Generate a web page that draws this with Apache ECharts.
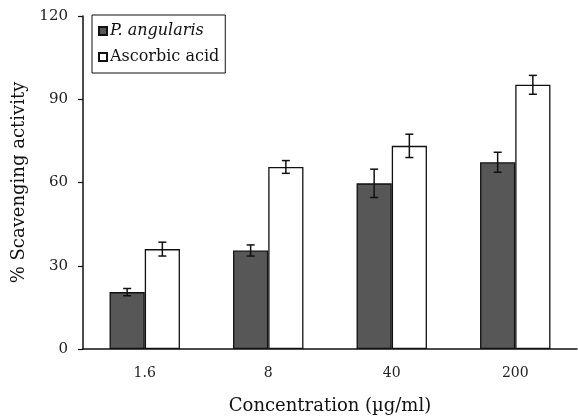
<!DOCTYPE html>
<html>
<head>
<meta charset="utf-8">
<script src="https://cdn.jsdelivr.net/npm/echarts@6/dist/echarts.min.js"></script>
<style>html,body{margin:0;padding:0;background:#fff;}#c{width:578px;height:416px;}</style>
</head>
<body>
<div id="c"></div>
<script>
const categories = ['1.6', '8', '40', '200'];
const pangMean = [20.5, 35.5, 59.7, 67.3];
const pangErr = [1.3, 2.0, 5.1, 3.6];
const ascMean = [36.0, 65.6, 73.2, 95.2];
const ascErr = [2.5, 2.3, 4.2, 3.4];
const yTicks = [0, 30, 60, 90, 120];

const FONT = 'DejaVu Serif';
const BAR_FRAC = 0.285;

function errSeries(name, means, errs, side) {
  return {
    type: 'custom',
    name: name + ' err',
    silent: true,
    z: 5,
    data: means.map((m, i) => [i, m, errs[i]]),
    renderItem: function (params, api) {
      const i = api.value(0), m = api.value(1), e = api.value(2);
      const band = api.size([1, 0])[0];
      const off = side * band * BAR_FRAC / 2;
      const top = api.coord([i, m + e]);
      const bot = api.coord([i, m - e]);
      const x = top[0] + off;
      const cap = 4;
      const st = { stroke: '#111', lineWidth: 1.5 };
      return {
        type: 'group',
        children: [
          { type: 'line', shape: { x1: x, y1: top[1], x2: x, y2: bot[1] }, style: st },
          { type: 'line', shape: { x1: x - cap, y1: top[1], x2: x + cap, y2: top[1] }, style: st },
          { type: 'line', shape: { x1: x - cap, y1: bot[1], x2: x + cap, y2: bot[1] }, style: st }
        ]
      };
    }
  };
}

const chart = echarts.init(document.getElementById('c'));
chart.setOption({
  animation: false,
  backgroundColor: '#fff',
  textStyle: { fontFamily: FONT },
  grid: { left: 83, right: 1, top: 16, bottom: 67, outerBoundsMode: 'none', containLabel: false },
  legend: {
    orient: 'vertical',
    left: 92, top: 15,
    padding: [8, 6, 8, 6],
    itemGap: 10,
    borderColor: '#111', borderWidth: 1,
    itemWidth: 8, itemHeight: 8,
    icon: 'rect',
    data: ['P. angularis', 'Ascorbic acid'],
    textStyle: { fontFamily: FONT, fontSize: 16, color: '#111', padding: [0, 0, 0, -2],
      rich: { i: { fontStyle: 'italic', fontFamily: FONT, fontSize: 16, color: '#111' } } },
    formatter: function (n) { return n === 'P. angularis' ? '{i|' + n + '}' : n; }
  },
  xAxis: {
    type: 'category',
    data: categories,
    name: 'Concentration (µg/ml)',
    nameLocation: 'middle',
    nameGap: 48,
    nameTextStyle: { fontFamily: FONT, fontSize: 18, color: '#111' },
    axisLine: { lineStyle: { color: '#111', width: 1.5 } },
    axisTick: { inside: true, length: 4, lineStyle: { color: '#111', width: 1.2 } },
    axisLabel: { fontFamily: FONT, fontSize: 14, color: '#222', margin: 17 }
  },
  yAxis: {
    type: 'value',
    min: yTicks[0], max: yTicks[yTicks.length - 1], interval: 30,
    name: '% Scavenging activity',
    nameLocation: 'middle',
    nameGap: 52,
    nameTextStyle: { fontFamily: FONT, fontSize: 18, color: '#111' },
    axisLine: { show: true, lineStyle: { color: '#111', width: 1.5 } },
    axisTick: { show: true, length: 5, lineStyle: { color: '#111', width: 1.2 } },
    axisLabel: { fontFamily: FONT, fontSize: 15, color: '#222', margin: 15 },
    splitLine: { show: false }
  },
  series: [
    {
      name: 'P. angularis', type: 'bar', data: pangMean,
      barWidth: (BAR_FRAC * 100) + '%', barGap: '0%',
      itemStyle: { color: '#575757', borderColor: '#111', borderWidth: 1.3 }
    },
    {
      name: 'Ascorbic acid', type: 'bar', data: ascMean,
      barWidth: (BAR_FRAC * 100) + '%', barGap: '0%',
      itemStyle: { color: '#ffffff', borderColor: '#111', borderWidth: 1.3 }
    },
    errSeries('P. angularis', pangMean, pangErr, -1),
    errSeries('Ascorbic acid', ascMean, ascErr, 1)
  ]
});
</script>
</body>
</html>
